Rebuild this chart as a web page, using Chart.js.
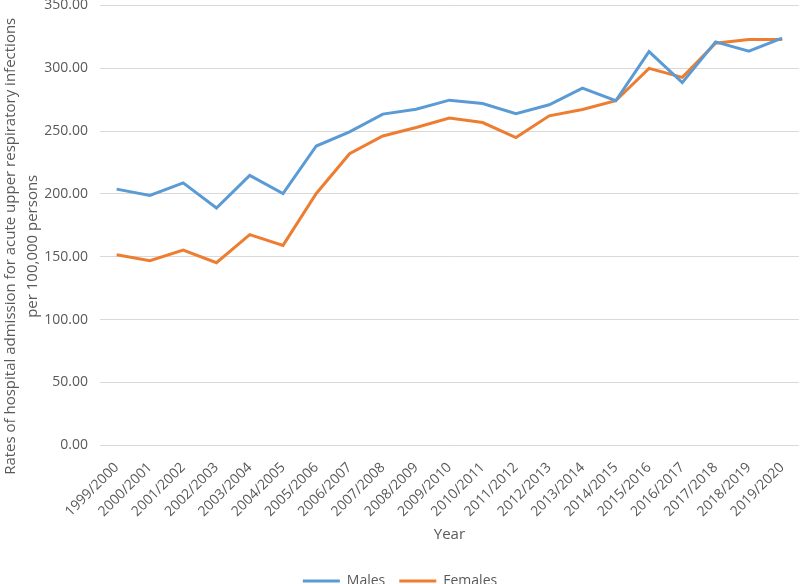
<!DOCTYPE html>
<html>
<head>
<meta charset="utf-8">
<script src="https://cdn.jsdelivr.net/npm/chart.js@4.4.1/dist/chart.umd.min.js"></script>
<style>
  html, body { margin: 0; padding: 0; background: #fff; overflow: hidden; }
  #wrap { width: 800px; height: 584px; overflow: hidden; position: relative; }
  #chart { position: absolute; left: 0; top: -15px; }
</style>
</head>
<body>
<div id="wrap"><canvas id="chart" width="800" height="613"></canvas></div>
<script>
const years = [
  "1999/2000", "2000/2001", "2001/2002", "2002/2003", "2003/2004", "2004/2005",
  "2005/2006", "2006/2007", "2007/2008", "2008/2009", "2009/2010", "2010/2011",
  "2011/2012", "2012/2013", "2013/2014", "2014/2015", "2015/2016", "2016/2017",
  "2017/2018", "2018/2019", "2019/2020"
];
const males = [
  203.8, 198.7, 208.8, 188.8, 214.7, 200.3, 238.1, 249.3, 263.5, 267.4, 274.6,
  271.9, 263.9, 270.9, 284.2, 274.1, 313.2, 288.5, 321.0, 313.5, 323.9
];
const females = [
  151.6, 146.8, 155.3, 145.2, 167.6, 159.0, 200.3, 232.0, 246.1, 252.8, 260.3,
  256.8, 244.8, 262.1, 267.1, 274.1, 299.9, 292.7, 319.9, 322.8, 322.8
];
const yTitle = [
  "Rates of hospital admission for acute upper respiratory infections",
  "per 100,000 persons"
];

const grey = "#595959";
const font = { family: "'Open Sans', sans-serif", size: 14 };

// y title is drawn a bit below the plot centre, like the original
const yTitlePlugin = {
  id: "yTitle",
  afterDraw(chart) {
    const { ctx, chartArea } = chart;
    const cy = (chartArea.top + chartArea.bottom) / 2 + 21;
    ctx.save();
    ctx.fillStyle = grey;
    ctx.font = "15px 'Open Sans', sans-serif";
    ctx.textAlign = "center";
    ctx.textBaseline = "middle";
    yTitle.forEach((line, i) => {
      ctx.save();
      ctx.translate(11 + i * 22, cy);
      ctx.rotate(-Math.PI / 2);
      ctx.fillText(line, 0, 0);
      ctx.restore();
    });
    ctx.restore();
  }
};

new Chart(document.getElementById("chart"), {
  type: "line",
  data: {
    labels: years,
    datasets: [
      { label: "Males", data: males, borderColor: "#5B9BD5", backgroundColor: "#5B9BD5",
        borderWidth: 3, pointBorderColor: "#5B9BD5", pointBorderWidth: 3 },
      { label: "Females", data: females, borderColor: "#ED7D31", backgroundColor: "#ED7D31",
        borderWidth: 3, pointBorderColor: "#ED7D31", pointBorderWidth: 3 }
    ]
  },
  options: {
    responsive: false,
    animation: false,
    devicePixelRatio: 1,
    elements: {
      line: { tension: 0 },
      point: { radius: 0 }
    },
    plugins: {
      tooltip: { enabled: false },
      legend: {
        position: "bottom",
        labels: {
          color: grey,
          font: font,
          usePointStyle: true,
          pointStyle: "line",
          pointStyleWidth: 37,
          padding: 14
        }
      }
    },
    scales: {
      x: {
        offset: true,
        grid: { display: false },
        border: { display: false },
        ticks: { color: grey, font: font, minRotation: 45, maxRotation: 45, padding: 6 },
        title: { display: true, text: "Year", color: grey,
          font: { family: "'Open Sans', sans-serif", size: 15 }, padding: { top: 0, bottom: 16 } }
      },
      y: {
        min: 0,
        max: 350,
        grid: { color: "#d9d9d9", drawTicks: false },
        border: { display: false },
        afterFit: scale => { scale.width = 100; },
        ticks: {
          stepSize: 50,
          color: grey,
          font: font,
          padding: 12,
          callback: v => v.toFixed(2)
        }
      }
    }
  },
  plugins: [yTitlePlugin]
});
</script>
</body>
</html>
